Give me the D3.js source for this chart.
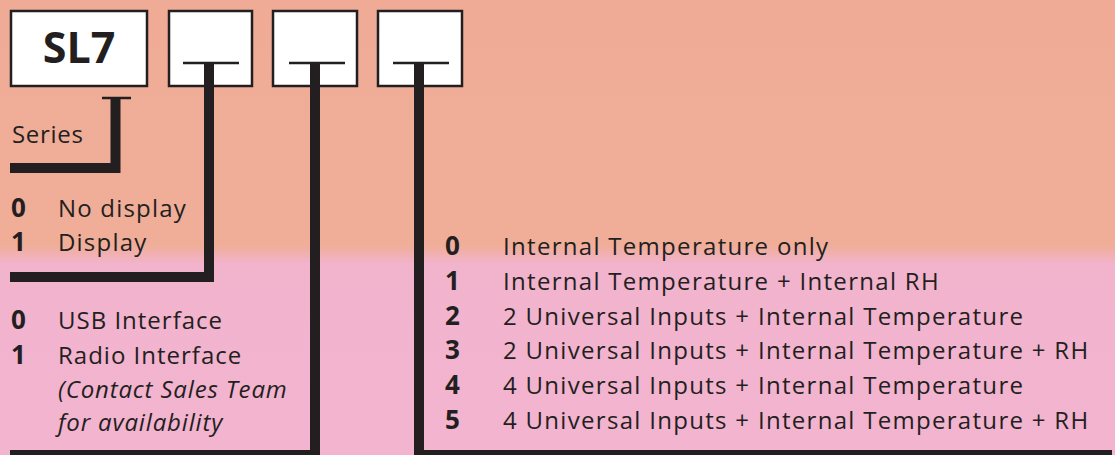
<!DOCTYPE html>
<html>
<head>
<meta charset="utf-8">
<script src="https://cdn.jsdelivr.net/npm/d3@7.9.0/dist/d3.min.js"></script>
<style>
  html, body { margin: 0; padding: 0; }
  body { width: 1115px; height: 455px; overflow: hidden; }
  svg { display: block; font-family: "Open Sans", "Noto Sans", sans-serif; }
</style>
</head>
<body>
<svg id="chart" width="1115" height="455"></svg>
<script>
// Part-number fields
const codeBoxes = ["SL7", "", "", ""];
const seriesLabel = "Series";

// Field 1: display
const displayCodes = ["0", "1"];
const displayLabels = ["No display", "Display"];

// Field 2: interface
const interfaceCodes = ["0", "1"];
const interfaceLabels = ["USB Interface", "Radio Interface"];
const interfaceNotes = ["(Contact Sales Team", "for availability"];

// Field 3: inputs
const inputCodes = ["0", "1", "2", "3", "4", "5"];
const inputLabels = [
  "Internal Temperature only",
  "Internal Temperature + Internal RH",
  "2 Universal Inputs + Internal Temperature",
  "2 Universal Inputs + Internal Temperature + RH",
  "4 Universal Inputs + Internal Temperature",
  "4 Universal Inputs + Internal Temperature + RH"
];

const W = 1115, H = 455;
const ink = "#231f20";
const svg = d3.select("#chart");

// Background: salmon top, pink bottom
const defs = svg.append("defs");
const grad = defs.append("linearGradient")
  .attr("id", "bg").attr("x1", 0).attr("y1", 0).attr("x2", 0).attr("y2", 1);
grad.append("stop").attr("offset", "0%").attr("stop-color", "#efab96");
grad.append("stop").attr("offset", "54%").attr("stop-color", "#f0ae99");
grad.append("stop").attr("offset", "58%").attr("stop-color", "#f2b3cd");
grad.append("stop").attr("offset", "100%").attr("stop-color", "#f3b4d0");
svg.append("rect").attr("width", W).attr("height", H).attr("fill", "url(#bg)");

// Boxes
const boxX = [11, 169, 273, 378];
const boxW = [136, 83, 84, 84];
const boxTop = 11, boxH = 75;

const boxes = svg.append("g").selectAll("g")
  .data(codeBoxes)
  .join("g");

boxes.append("rect")
  .attr("x", (d, i) => boxX[i])
  .attr("y", boxTop)
  .attr("width", (d, i) => boxW[i])
  .attr("height", boxH)
  .attr("fill", "#fff")
  .attr("stroke", ink)
  .attr("stroke-width", 2.5);

boxes.filter(d => d !== "").append("text")
  .attr("x", (d, i) => boxX[0] + boxW[0] / 2)
  .attr("y", 63)
  .attr("text-anchor", "middle")
  .attr("font-size", 43)
  .attr("font-weight", 700)
  .attr("fill", ink)
  .text(d => d);

// Connector centre lines (x) for each empty box
const lineX = [209, 315, 419];

// small ticks inside the empty boxes
svg.append("g").selectAll("line")
  .data(lineX)
  .join("line")
  .attr("x1", d => d - 26).attr("x2", d => d + 30)
  .attr("y1", 63).attr("y2", 63)
  .attr("stroke", ink).attr("stroke-width", 2.5);

// Series bracket
svg.append("line")
  .attr("x1", 102).attr("x2", 131).attr("y1", 98).attr("y2", 98)
  .attr("stroke", ink).attr("stroke-width", 2.5);

const lineGen = d3.line();
const conn = svg.append("g")
  .attr("fill", "none").attr("stroke", ink)
  .attr("stroke-width", 10).attr("stroke-linejoin", "miter");

conn.append("path").attr("d", lineGen([[115.5, 98], [115.5, 168], [10, 168]]));
conn.append("path").attr("d", lineGen([[lineX[0], 63], [lineX[0], 277], [10, 277]]));
conn.append("path").attr("d", lineGen([[lineX[1], 63], [lineX[1], 455], [10, 455]]));
conn.append("path").attr("d", lineGen([[lineX[2], 63], [lineX[2], 455], [1112, 455]]));

// Labels
const txt = svg.append("g").attr("fill", ink);

txt.append("text")
  .attr("x", 12).attr("y", 143)
  .attr("font-size", 24)
  .attr("letter-spacing", 0.7)
  .text(seriesLabel);

function codeList(codes, labels, y0, step, xNum, xLab, size, spacing) {
  const y = d3.scaleLinear().domain([0, 1]).range([y0, y0 + step]);
  const g = txt.append("g");
  const rows = g.selectAll("g").data(codes).join("g")
    .attr("transform", (d, i) => `translate(0,${y(i)})`);
  rows.append("text")
    .attr("x", xNum)
    .attr("font-size", 26)
    .attr("font-weight", 700)
    .text(d => d);
  rows.append("text")
    .attr("x", xLab)
    .attr("font-size", size)
    .attr("letter-spacing", spacing)
    .text((d, i) => labels[i]);
  return y;
}

codeList(displayCodes, displayLabels, 217, 34, 11, 58, 24, 1.2);
const yInt = codeList(interfaceCodes, interfaceLabels, 329, 34.5, 11, 58, 24, 1.0);

txt.append("g").selectAll("text")
  .data(interfaceNotes)
  .join("text")
  .attr("x", 58)
  .attr("y", (d, i) => yInt(2 + i) - 2 * i)
  .attr("font-size", 24)
  .attr("font-style", "italic")
  .attr("letter-spacing", 0.85)
  .text(d => d);

codeList(inputCodes, inputLabels, 255, 34.8, 445, 503, 24, 1.3);
</script>
</body>
</html>
